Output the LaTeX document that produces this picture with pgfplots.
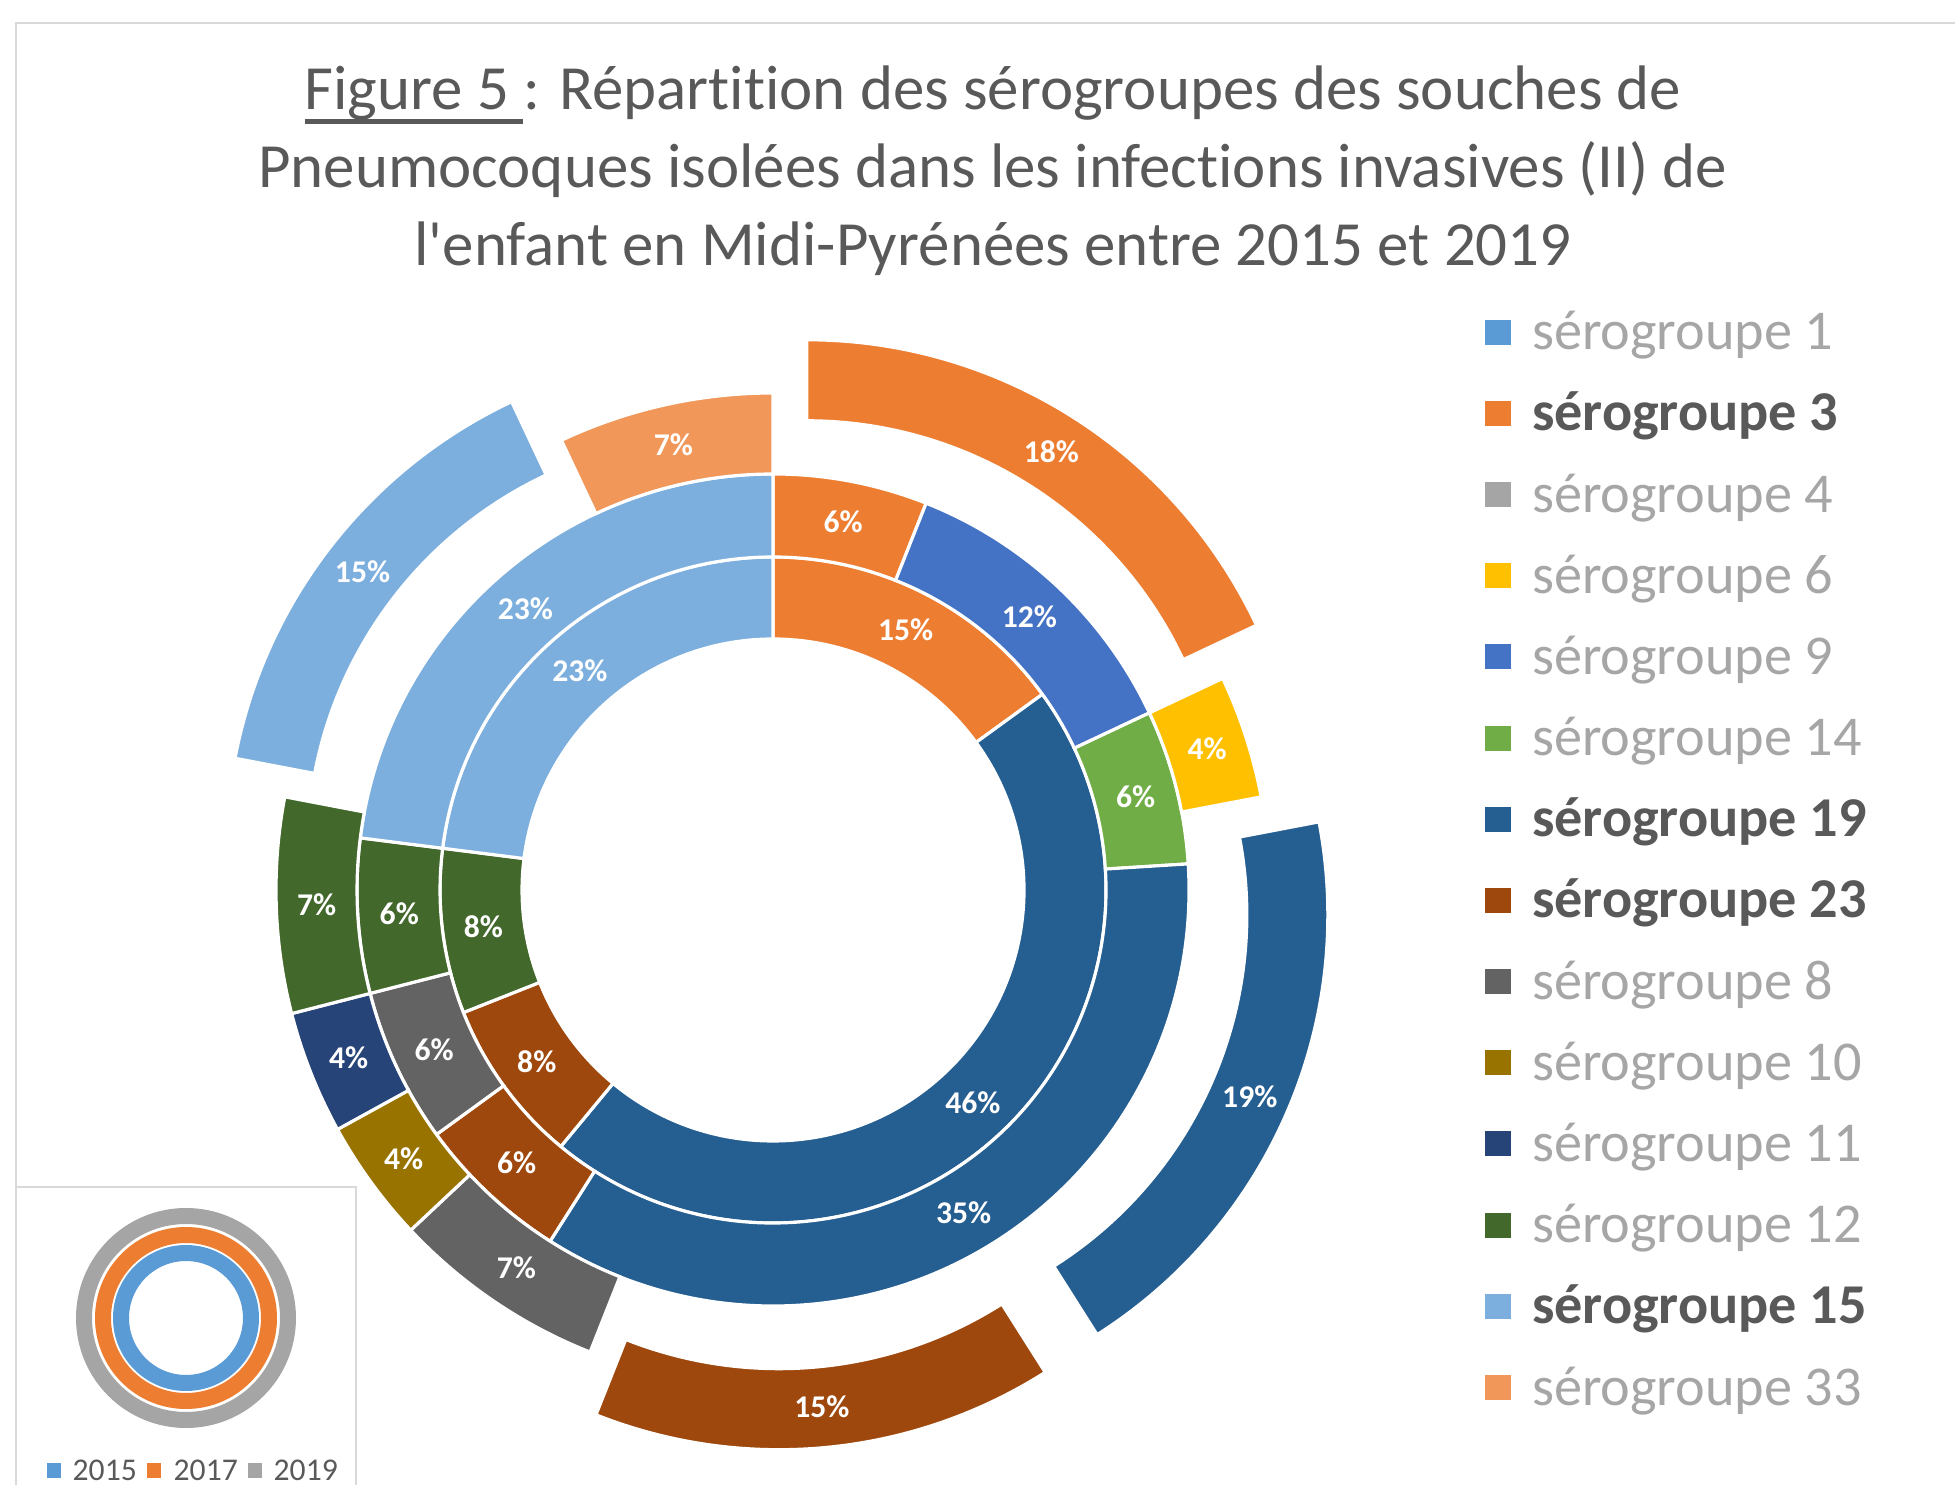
\documentclass[border=0pt]{standalone}
\usepackage{pgfplots}
\pgfplotsset{compat=1.18}
\usepackage{pgfplotstable}
\usepackage{fontspec}
\setmainfont{Carlito}[Ligatures={NoCommon,NoContextual}]

\definecolor{sgA}{HTML}{5B9BD5} % 1
\definecolor{sgB}{HTML}{ED7D31} % 3
\definecolor{sgC}{HTML}{A5A5A5} % 4
\definecolor{sgD}{HTML}{FFC000} % 6
\definecolor{sgE}{HTML}{4472C4} % 9
\definecolor{sgF}{HTML}{70AD47} % 14
\definecolor{sgG}{HTML}{255E91} % 19
\definecolor{sgH}{HTML}{9E480E} % 23
\definecolor{sgI}{HTML}{636363} % 8
\definecolor{sgJ}{HTML}{997300} % 10
\definecolor{sgK}{HTML}{264478} % 11
\definecolor{sgL}{HTML}{43682B} % 12
\definecolor{sgM}{HTML}{7CAFDD} % 15
\definecolor{sgN}{HTML}{F1975A} % 33
\definecolor{txtgray}{HTML}{595959}
\definecolor{leggray}{HTML}{A6A6A6}
\definecolor{framegray}{HTML}{D9D9D9}

% 2015 (inner ring)
\pgfplotstableread{
sero val col ex
3  15 sgB 0
19 46 sgG 0
23 8  sgH 0
12 8  sgL 0
15 23 sgM 0
}\ringA
% 2017 (middle ring)
\pgfplotstableread{
sero val col ex
3  6  sgB 0
9  12 sgE 0
14 6  sgF 0
19 35 sgG 0
23 6  sgH 0
8  6  sgI 0
12 6  sgL 0
15 23 sgM 0
}\ringB
% 2019 (outer ring, some slices pulled out)
\pgfplotstableread{
sero val col ex
3  18 sgB 1
6  4  sgD 0
19 19 sgG 1
23 15 sgH 1
8  7  sgI 0
10 4  sgJ 0
11 4  sgK 0
12 7  sgL 0
15 15 sgM 1
33 7  sgN 0
}\ringC

\tikzset{lbl/.style={font=\fontsize{9}{11}\selectfont\bfseries, text=white, inner sep=0pt}}

\newsavebox\ulbox
\newcommand\ulined[1]{\sbox\ulbox{#1}\rlap{\rule[-3.9pt]{\wd\ulbox}{1.2pt}}\usebox\ulbox}

\newcount\qrow
% #1 table, #2 inner radius, #3 outer radius (axis units = 0.1mm)
\newcommand\drawring[3]{%
  \pgfplotstablegetrowsof{#1}\edef\qn{\pgfplotsretval}%
  \xdef\qcum{0}%
  \qrow=0
  \loop
    \pgfplotstablegetelem{\the\qrow}{val}\of{#1}\edef\sval{\pgfplotsretval}%
    \pgfplotstablegetelem{\the\qrow}{col}\of{#1}\edef\scol{\pgfplotsretval}%
    \pgfplotstablegetelem{\the\qrow}{ex}\of{#1}\edef\sex{\pgfplotsretval}%
    \pgfmathsetmacro\qts{3.6*\qcum}%
    \pgfmathsetmacro\qte{3.6*(\qcum+\sval)}%
    \pgfmathsetmacro\qtm{(\qts+\qte)/2}%
    \pgfmathsetmacro\qox{773+63*\sex*sin(\qtm)}%
    \pgfmathsetmacro\qoy{594+63*\sex*cos(\qtm)}%
    \pgfmathsetmacro\qxa{\qox+#3*sin(\qts)}%
    \pgfmathsetmacro\qya{\qoy+#3*cos(\qts)}%
    \pgfmathsetmacro\qxb{\qox+#2*sin(\qte)}%
    \pgfmathsetmacro\qyb{\qoy+#2*cos(\qte)}%
    \pgfmathsetmacro\qpa{90-\qts}%
    \pgfmathsetmacro\qpb{90-\qte}%
    \pgfmathsetmacro\qRo{#3*0.1}%
    \pgfmathsetmacro\qRi{#2*0.1}%
    \pgfmathsetmacro\qrm{(#2+#3)/2}%
    \pgfmathsetmacro\qxl{\qox+\qrm*sin(\qtm)}%
    \pgfmathsetmacro\qyl{\qoy+\qrm*cos(\qtm)}%
    \edef\qcmd{\noexpand\fill[fill=\scol, draw=white, line width=0.9pt, line join=miter]
      (axis cs:\qxa,\qya) arc[start angle=\qpa, end angle=\qpb, radius=\qRo mm]
      -- (axis cs:\qxb,\qyb) arc[start angle=\qpb, end angle=\qpa, radius=\qRi mm] -- cycle;
      \noexpand\node[lbl] at (axis cs:\qxl,\qyl) {\sval\noexpand\%};}%
    \qcmd
    \pgfmathsetmacro\qnew{\qcum+\sval}\xdef\qcum{\qnew}%
    \advance\qrow by 1
  \ifnum\qrow<\qn\repeat
}

\begin{document}
\begin{tikzpicture}
\path[use as bounding box] (0,0) rectangle (195.5mm,148.4mm);
\begin{axis}[
  at={(0,0)}, anchor=south west,
  x=0.1mm, y=0.1mm, xmin=0, xmax=1955, ymin=0, ymax=1484,
  hide axis, clip=false,
  legend style={draw=none, fill=none, inner sep=0pt, outer sep=0pt,
     at={(0.7596,0.7928)}, anchor=north west,
     row sep=9.1pt, column sep=2.1mm,
     font=\fontsize{16}{19}\selectfont,
     nodes={inner sep=0pt, text height=12pt, text depth=2pt}},
  legend cell align=left,
  legend image code/.code={\fill[#1] (0mm,-1.25mm) rectangle (2.6mm,1.25mm);},
]
% frame
\draw[framegray, line width=0.75pt] (axis cs:16,-20) -- (axis cs:16,1461) -- (axis cs:1990,1461);

% rings
\drawring{\ringA}{251}{333}
\drawring{\ringB}{333}{416}
\drawring{\ringC}{416}{497}

% title
\node[anchor=base, inner sep=0pt, text=txtgray, font=\fontsize{17.9}{21}\selectfont] at (axis cs:993,1374)
  {\ulined{Figure 5 }: Répartition des sérogroupes des souches de};
\node[anchor=base, inner sep=0pt, text=txtgray, font=\fontsize{17.9}{21}\selectfont] at (axis cs:993,1296)
  {Pneumocoques isolées dans les infections invasives (II) de};
\node[anchor=base, inner sep=0pt, text=txtgray, font=\fontsize{17.9}{21}\selectfont] at (axis cs:993,1218)
  {l\textquotesingle enfant en Midi-Pyrénées entre 2015 et 2019};

% legend of sérogroupes
\addlegendimage{fill=sgA, draw=none}\addlegendentry{\textcolor{leggray}{sérogroupe 1}}
\addlegendimage{fill=sgB, draw=none}\addlegendentry{\textcolor{txtgray}{\bfseries sérogroupe 3}}
\addlegendimage{fill=sgC, draw=none}\addlegendentry{\textcolor{leggray}{sérogroupe 4}}
\addlegendimage{fill=sgD, draw=none}\addlegendentry{\textcolor{leggray}{sérogroupe 6}}
\addlegendimage{fill=sgE, draw=none}\addlegendentry{\textcolor{leggray}{sérogroupe 9}}
\addlegendimage{fill=sgF, draw=none}\addlegendentry{\textcolor{leggray}{sérogroupe 14}}
\addlegendimage{fill=sgG, draw=none}\addlegendentry{\textcolor{txtgray}{\bfseries sérogroupe 19}}
\addlegendimage{fill=sgH, draw=none}\addlegendentry{\textcolor{txtgray}{\bfseries sérogroupe 23}}
\addlegendimage{fill=sgI, draw=none}\addlegendentry{\textcolor{leggray}{sérogroupe 8}}
\addlegendimage{fill=sgJ, draw=none}\addlegendentry{\textcolor{leggray}{sérogroupe 10}}
\addlegendimage{fill=sgK, draw=none}\addlegendentry{\textcolor{leggray}{sérogroupe 11}}
\addlegendimage{fill=sgL, draw=none}\addlegendentry{\textcolor{leggray}{sérogroupe 12}}
\addlegendimage{fill=sgM, draw=none}\addlegendentry{\textcolor{txtgray}{\bfseries sérogroupe 15}}
\addlegendimage{fill=sgN, draw=none}\addlegendentry{\textcolor{leggray}{sérogroupe 33}}

% small series key (bottom left)
\draw[framegray, line width=0.6pt] (axis cs:16,297) -- (axis cs:356,297) -- (axis cs:356,-20);
\fill[sgC, even odd rule] (axis cs:186,166) circle[radius=11.0mm] circle[radius=9.4mm];
\fill[sgB, even odd rule] (axis cs:186,166) circle[radius=9.1mm] circle[radius=7.5mm];
\fill[sgA, even odd rule] (axis cs:186,166) circle[radius=7.3mm] circle[radius=5.7mm];
\fill[sgA] (axis cs:47,6) rectangle (axis cs:61,21);
\fill[sgB] (axis cs:147,6) rectangle (axis cs:161,21);
\fill[sgC] (axis cs:248,6) rectangle (axis cs:262,21);
\node[anchor=base west, inner sep=0pt, text=txtgray, font=\fontsize{9}{11}\selectfont] at (axis cs:72,4) {2015};
\node[anchor=base west, inner sep=0pt, text=txtgray, font=\fontsize{9}{11}\selectfont] at (axis cs:173,4) {2017};
\node[anchor=base west, inner sep=0pt, text=txtgray, font=\fontsize{9}{11}\selectfont] at (axis cs:273,4) {2019};
\end{axis}
\end{tikzpicture}
\end{document}
